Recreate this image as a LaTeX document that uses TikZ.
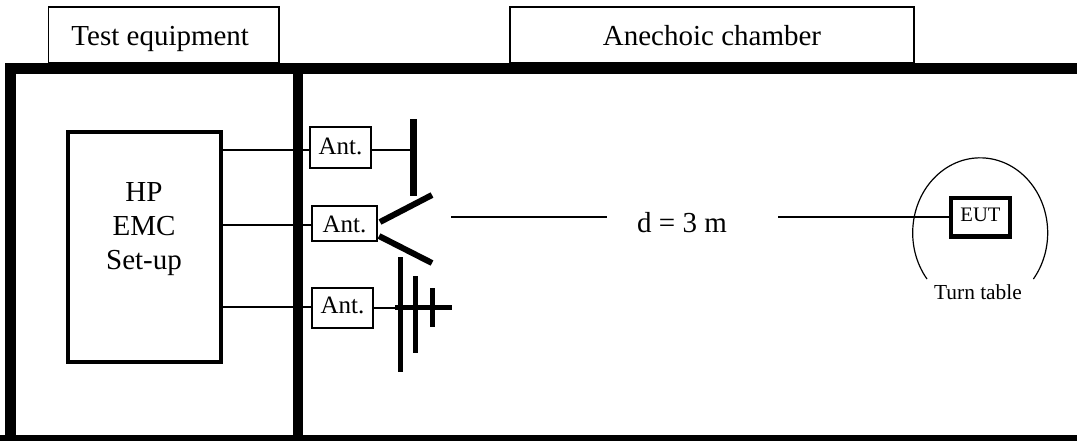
\documentclass[tikz,border=0pt]{standalone}
\usepackage{fontspec}
\setmainfont{Liberation Serif}

\begin{document}
\begin{tikzpicture}[%
    x=0.5pt, y=-0.5pt,
    wall/.style={line width=5.25pt},
    wire/.style={line width=1pt},
    element/.style={line width=2.5pt},
    titlebox/.style={
        draw,
        rectangle,
        line width=0.75pt,
        inner sep=0,
        outer sep=0,
        align=center,
        minimum width=115.25pt,
        text height=19pt,
        text depth=9pt,
        font=\fontsize{14.5}{17}\selectfont},
    antbox/.style={
        draw,
        rectangle,
        line width=0.75pt,
        inner sep=0,
        outer sep=0,
        minimum width=30.5pt,
        font=\fontsize{12.5}{15}\selectfont},
    bigtext/.style={
        anchor=base,
        align=center,
        inner sep=0,
        font=\fontsize{14.5}{17}\selectfont},
]

\clip (0,0) rectangle (1077,441);

% walls
\draw[wall] (1100,68.5) -- (10.3,68.5) -- (10.3,441);
\draw[wall] (298,68.5) -- (298,441);
\draw[line width=3pt] (0,438) -- (1077,438);

\node[titlebox] (testeq) at (163.75,35) {Test equipment\hspace{3.5pt}};
\node[titlebox, minimum width=202pt] (chamber) at (712,35) {Anechoic chamber};

\node[draw, rectangle, line width=1.75pt, outer sep=0,
      minimum width=76.5pt, minimum height=115pt] (hpsetup) at (144.5,247) {};
\node[bigtext] (hplabel) at (144,269) {HP\\EMC\\Set-up};

\node[antbox, text height=13.5pt, text depth=7pt] (anta) at (340.5,147.5) {Ant.};
\node[antbox, minimum width=32.5pt, text height=13pt, text depth=4.5pt] (antb) at (344.5,223.5) {Ant.};
\node[antbox, text height=12.5pt, text depth=7.5pt] (antc) at (342.5,308) {Ant.};

\foreach \n/\y in {a/150,b/225,c/307}{
    \draw[wire] (hpsetup.east |- 0,\y) -- (ant\n.west |- 0,\y);
}

% first antenna
\coordinate (bartop) at (413.7,119);
\coordinate (barbot) at (413.7,196);
\draw[element, line width=3.75pt] (bartop) -- (barbot);
\draw[wire] (anta.east |- 0,150) -- (bartop |- 0,150);

% horn
\coordinate (hornin) at (380,222);
\coordinate (hornout) at (432,195);
\draw[element, line width=3pt] (hornin) -- (hornout);
\coordinate (hornlow) at (379,236);
\coordinate (hornend) at (432,263);
\draw[element, line width=3pt] (hornlow) -- (hornend);

% log periodic
\coordinate (boomin) at (395,307.7);
\coordinate (boomout) at (452,307.7);
\draw[wire] (antc.east |- boomin) -- (boomin);
\draw[element] (boomin) -- (boomout);
\foreach \x/\a/\b in {400/257/372,415.7/276/353,432.7/288/327}{
    \draw[element] (\x,\a) -- (\x,\b);
}

\node[antbox, line width=2.25pt, minimum width=29.5pt, text height=12pt, text depth=7.35pt,
      font=\fontsize{10.3}{12}\selectfont] (eut) at (980.5,217.3) {EUT};

\node[bigtext] (dist) at (682,232) {d = 3 m};
\coordinate (dleft) at (451,217.3);
\coordinate (dmid) at (607,217.3);
\coordinate (dright) at (778,217.3);
\draw[wire] (dleft) -- (dmid);
\draw[wire] (dright) -- (eut.west);

\draw[line width=0.6pt] (927,279) arc[start angle=142, end angle=398, x radius=67.5, y radius=75];
\node[anchor=base, inner sep=0, font=\fontsize{10.7}{13}\selectfont] (turntable) at (978,299) {Turn table};

\end{tikzpicture}
\end{document}
